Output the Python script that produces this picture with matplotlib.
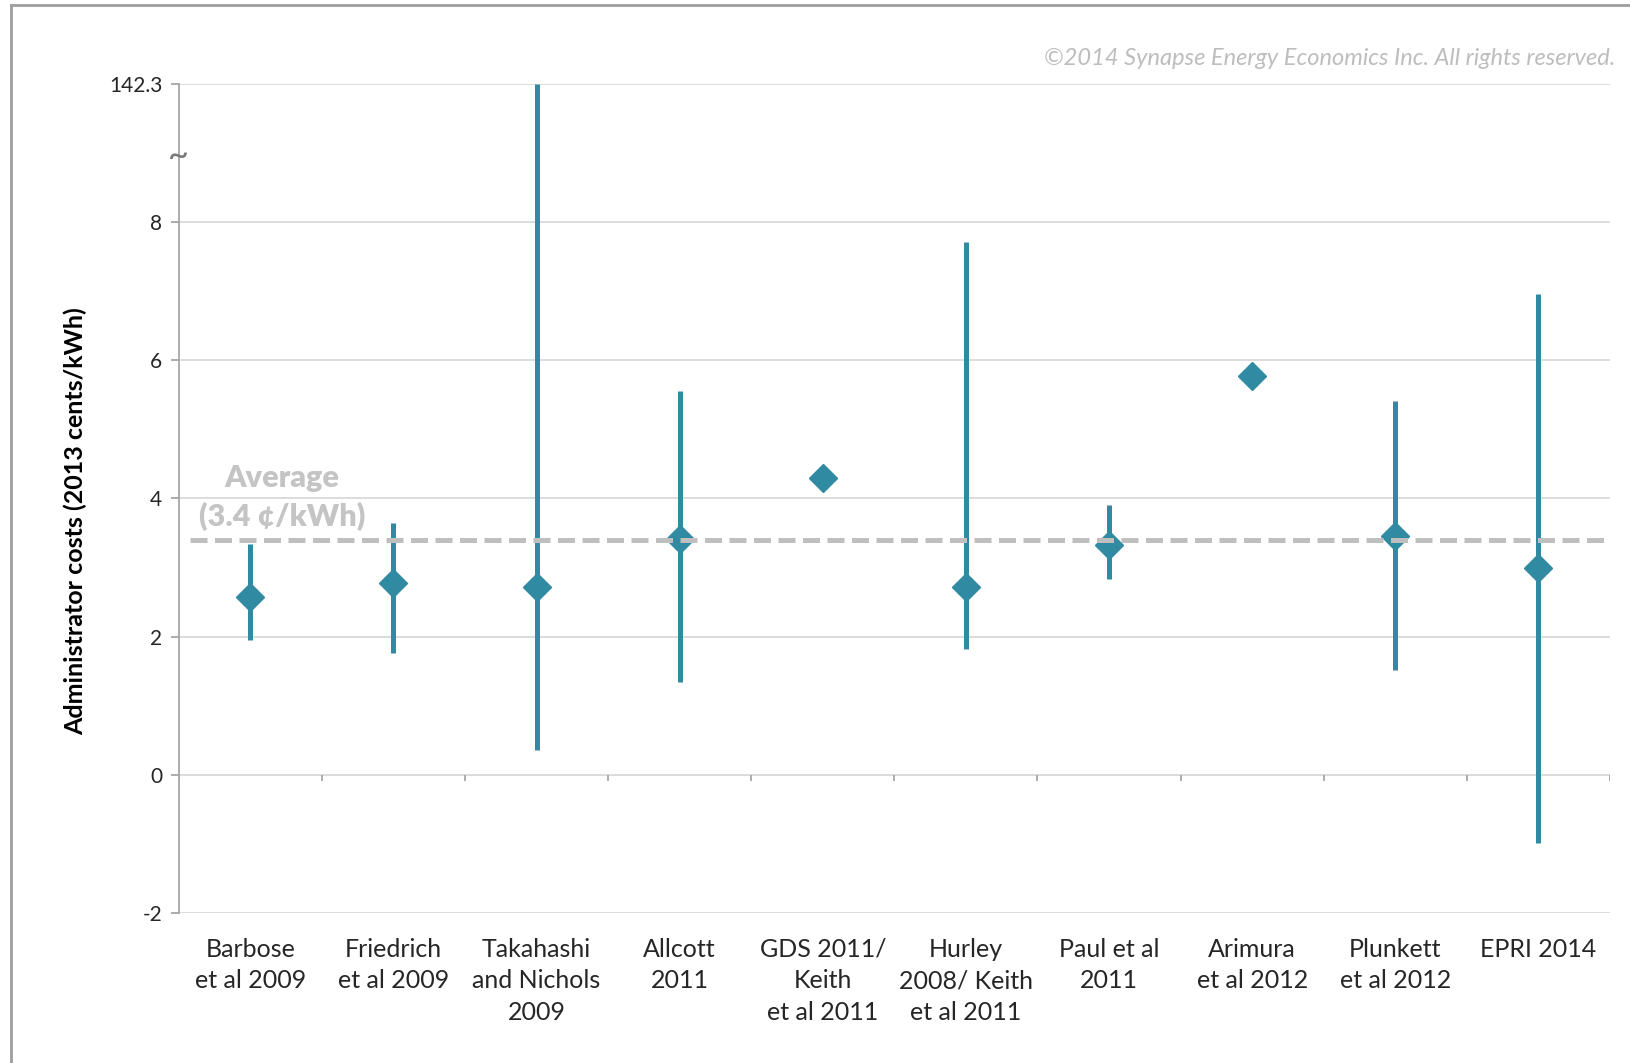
import numpy as np
import matplotlib
matplotlib.use("Agg")
import matplotlib.pyplot as plt
from matplotlib.lines import Line2D

plt.rcParams['font.family'] = ['Lato', 'DejaVu Sans']

# data (2013 cents/kWh)
studies = ["Barbose\net al 2009", "Friedrich\net al 2009", "Takahashi\nand Nichols\n2009",
           "Allcott\n2011", "GDS 2011/\nKeith\net al 2011", "Hurley\n2008/ Keith\net al 2011",
           "Paul et al\n2011", "Arimura\net al 2012", "Plunkett\net al 2012", "EPRI 2014"]
point = [2.57, 2.77, 2.72, 3.41, 4.29, 2.72, 3.33, 5.77, 3.46, 2.99]
low = [1.95, 1.76, 0.35, 1.34, np.nan, 1.82, 2.83, np.nan, 1.52, -0.99]
high = [3.34, 3.64, 142.3, 5.56, np.nan, 7.71, 3.90, np.nan, 5.41, 6.96]
average = 3.4

yticks = [-2, 0, 2, 4, 6, 8, 142.3]

# broken axis: values above 9 get squeezed so 142.3 sits at 10
BRK = 9.0
TOP = 142.3
def squash(v):
    v = np.asarray(v, dtype=float)
    return np.where(v > BRK, BRK + (v - BRK) / (TOP - BRK), v)

teal = "#2f8aa2"
grid_c = "#d9d9d9"
axis_c = "#a6a6a6"
txt_c = "#262626"

fig = plt.figure(figsize=(16.3, 10.63), dpi=100)
ax = fig.add_axes([0.1097, 0.1414, 0.8780, 0.7794])

x = np.arange(len(studies))
ax.set_xlim(-0.5, len(studies) - 0.5)
ax.set_ylim(-2, 10)

for yt in squash(yticks):
    ax.axhline(yt, color=grid_c, lw=1.3, zorder=0)

lo = squash(low)
hi = squash(high)
ax.vlines(x, lo, hi, color=teal, lw=3.6, zorder=2)
ax.plot(x, squash(point), ls="none", marker="D", ms=14, color=teal, mec=teal, zorder=3)

ax.axhline(average, xmin=0.008, color="#bfbfbf", lw=3.6, ls=(0, (3.4, 1.5)), zorder=4)
ax.text(0.22, 3.74, "(3.4 \u00a2/kWh)", ha="center", va="center",
        fontsize=22, fontweight="heavy", color="#c4c4c4")
ax.text(0.22, 4.29, "Average", ha="center", va="center",
        fontsize=22, fontweight="heavy", color="#c4c4c4")

# separator ticks on the zero line
bounds = np.arange(len(studies) + 1) - 0.5
ax.vlines(bounds, -0.09, 0, color=axis_c, lw=1.3, zorder=1)

ax.set_xticks(x)
ax.set_xticklabels(studies, fontsize=18, linespacing=1.45, color=txt_c)
ax.tick_params(axis="x", length=0, pad=18)

ax.set_yticks(squash(yticks))
ax.set_yticklabels([f"{v:g}" for v in yticks], fontsize=15, color=txt_c)
ax.tick_params(axis="y", length=6, color=axis_c, width=1.3, pad=6)

for s in ["top", "right", "bottom"]:
    ax.spines[s].set_visible(False)
ax.spines["left"].set_color(axis_c)
ax.spines["left"].set_linewidth(1.3)

ax.text(-0.5, 8.95, "~", ha="center", va="center", fontsize=26, color="#777777",
        transform=ax.transData, clip_on=False)

ax.set_ylabel("Administrator costs (2013 cents/kWh)", fontsize=18, fontweight="bold",
              color="black", va="center")
ax.yaxis.set_label_coords(-0.072, 0.473)

fig.text(0.991, 0.945, "\u00a92014 Synapse Energy Economics Inc. All rights reserved.",
         ha="right", va="center", fontsize=17, style="italic", color="#bdbdbd")

# outer frame (left and top edges visible)
fig.add_artist(Line2D([0.0065, 0.0065], [0.0, 0.995], color="#9e9e9e", lw=2, transform=fig.transFigure))
fig.add_artist(Line2D([0.0065, 1.0], [0.995, 0.995], color="#9e9e9e", lw=2, transform=fig.transFigure))

fig.savefig("out.png", dpi=100)
